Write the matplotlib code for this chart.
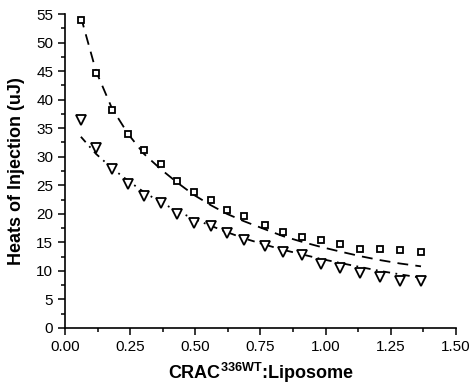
import numpy as np
import matplotlib.pyplot as plt
from matplotlib.ticker import MultipleLocator

plt.rcParams['font.family'] = ['Liberation Sans', 'DejaVu Sans']
plt.rcParams['mathtext.fontset'] = 'custom'
plt.rcParams['mathtext.rm'] = 'Liberation Sans'
plt.rcParams['mathtext.bf'] = 'Liberation Sans:bold'

# CRAC:liposome ratio
ratio = [0.061, 0.119, 0.180, 0.242, 0.303, 0.368, 0.430, 0.495, 0.560, 0.621,
         0.687, 0.767, 0.836, 0.909, 0.982, 1.055, 1.131, 1.208, 1.285, 1.366]

# measured heats (squares / triangles)
heat_sq = [54.0, 44.7, 38.2, 33.9, 31.2, 28.7, 25.8, 23.9, 22.5, 20.6,
           19.6, 18.1, 16.9, 16.0, 15.4, 14.7, 13.9, 13.8, 13.6, 13.4]
heat_tri = [36.5, 31.6, 27.8, 25.2, 23.2, 21.9, 20.0, 18.4, 17.8, 16.6,
            15.5, 14.4, 13.4, 12.7, 11.2, 10.5, 9.7, 9.0, 8.3, 8.3]

# fitted curves
fit_sq = [54.5, 45.0, 38.5, 34.0, 30.5, 27.8, 25.5, 23.3, 21.5, 20.0,
          18.7, 17.3, 16.1, 15.1, 14.2, 13.4, 12.6, 11.9, 11.3, 10.8]
fit_tri = [33.5, 30.5, 28.0, 25.8, 23.8, 22.0, 20.5, 19.1, 17.9, 16.8,
           15.7, 14.6, 13.7, 12.9, 12.1, 11.4, 10.7, 10.0, 9.4, 8.8]

fig = plt.figure(figsize=(4.71, 3.90), dpi=100)
ax = fig.add_axes([0.138, 0.159, 0.830, 0.805])

ax.plot(ratio, fit_sq, color='black', ls=(0, (6, 4)), lw=1.3)
ax.plot(ratio, fit_tri, color='black', ls=(0, (4, 3, 1, 3)), lw=1.3)
ax.plot(ratio, heat_sq, ls='none', marker='s', ms=5, mfc='white', mec='black', mew=1.3)
ax.plot(ratio, heat_tri, ls='none', marker='v', ms=7, mfc='white', mec='black', mew=1.3)

ax.set_xlim(0, 1.5)
ax.set_ylim(0, 55)
ax.xaxis.set_major_locator(MultipleLocator(0.25))
ax.xaxis.set_minor_locator(MultipleLocator(0.125))
ax.yaxis.set_major_locator(MultipleLocator(5))
ax.yaxis.set_minor_locator(MultipleLocator(2.5))
ax.xaxis.set_major_formatter(plt.FuncFormatter(lambda v, p: f'{v:.2f}'))

for s in ['top', 'right']:
    ax.spines[s].set_visible(False)
for s in ['left', 'bottom']:
    ax.spines[s].set_linewidth(1.2)
ax.tick_params(which='major', direction='out', length=5, width=1.1, labelsize=11)
ax.tick_params(which='minor', direction='out', length=3, width=1.1)

ax.set_xlabel(r'CRAC$^{\mathbf{336WT}}$:Liposome', fontsize=13, fontweight='bold', labelpad=5)
ax.set_ylabel('Heats of Injection (uJ)', fontsize=13, fontweight='bold', labelpad=8)

fig.savefig('out.png', dpi=100)
